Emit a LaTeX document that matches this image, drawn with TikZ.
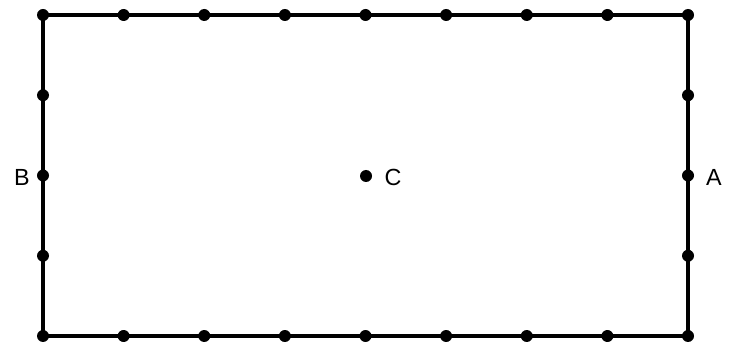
\documentclass[tikz,border=0pt]{standalone}
\usepackage{fontspec}
\setmainfont{Liberation Sans}
\begin{document}
\begin{tikzpicture}[x=0.75pt,y=-0.75pt,
  dot/.style={circle,fill=black,inner sep=0pt,minimum size=9pt},
  lbl/.style={font=\fontsize{17.5}{19}\selectfont,inner sep=0pt},
  edge/.style={line width=2.5pt}]
\useasboundingbox (0,0) rectangle (736,342);
% top and bottom dots
\foreach \i in {0,...,8} {
  \node[dot] (t\i) at ({43+\i*80.625},15) {};
  \node[dot] (b\i) at ({43+\i*80.625},336) {};
}
% side dots
\foreach \j in {1,2,3} {
  \node[dot] (l\j) at (43,{15+\j*80.25}) {};
  \node[dot] (r\j) at (688,{15+\j*80.25}) {};
}
\node[dot] (c) at (366,176) {};
\draw[edge] (t0.center) -- (t8.center) -- (b8.center) -- (b0.center) -- cycle;
\node[lbl] (B) at (22,177) {B};
\node[lbl] (A) at (714,177) {A};
\node[lbl] (C) at (393,177) {C};
\end{tikzpicture}
\end{document}
